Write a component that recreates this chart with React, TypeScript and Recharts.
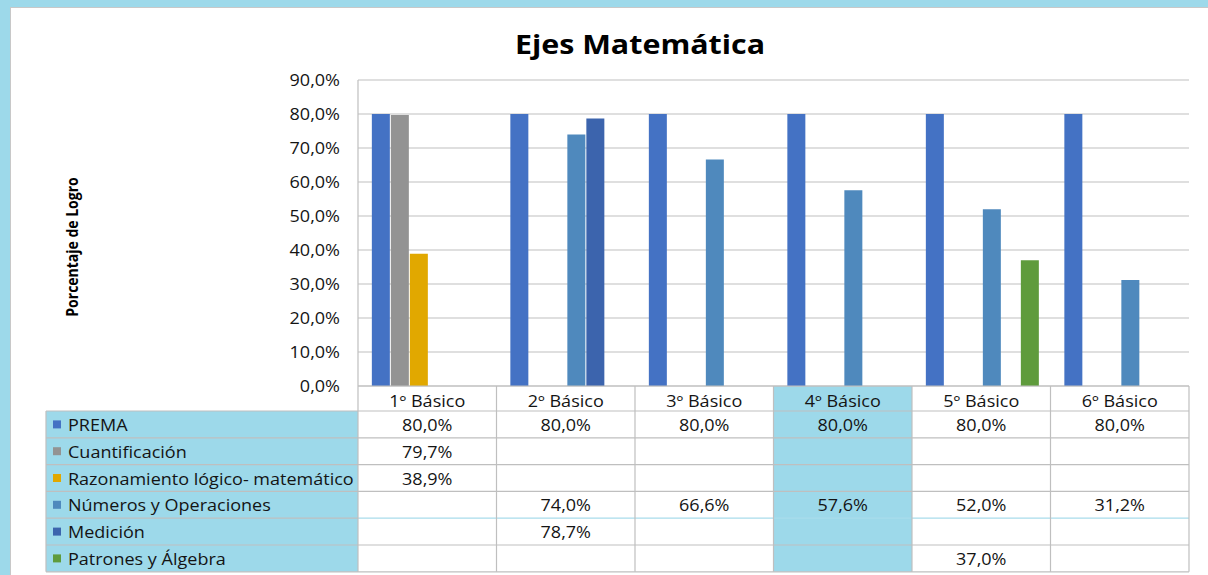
import React from 'react';
import { BarChart, Bar, XAxis, YAxis, CartesianGrid } from 'recharts';

const categories = ['1º Básico', '2º Básico', '3º Básico', '4º Básico', '5º Básico', '6º Básico'];
const prema = [80.0, 80.0, 80.0, 80.0, 80.0, 80.0];
const cuantificacion = [79.7, null, null, null, null, null];
const razonamiento = [38.9, null, null, null, null, null];
const numeros = [null, 74.0, 66.6, 57.6, 52.0, 31.2];
const medicion = [null, 78.7, null, null, null, null];
const patrones = [null, null, null, null, 37.0, null];
const yTicks = [0, 10, 20, 30, 40, 50, 60, 70, 80, 90];

const seriesDefs = [
  { key: 'prema', name: 'PREMA', values: prema, color: '#4472C4' },
  { key: 'cuant', name: 'Cuantificación', values: cuantificacion, color: '#939393' },
  { key: 'raz', name: 'Razonamiento lógico- matemático', values: razonamiento, color: '#E1A800' },
  { key: 'num', name: 'Números y Operaciones', values: numeros, color: '#4F89BD' },
  { key: 'med', name: 'Medición', values: medicion, color: '#3C64AD' },
  { key: 'pat', name: 'Patrones y Álgebra', values: patrones, color: '#5F9B3C' },
];

const data = categories.map((c, i) => {
  const row: Record<string, any> = { cat: c };
  seriesDefs.forEach((s) => {
    row[s.key] = s.values[i];
  });
  return row;
});

const W = 1208;
const H = 575;
const PLOT_LEFT = 358;
const PLOT_RIGHT = 1189;
const PLOT_TOP = 80;
const PLOT_BOTTOM = 386;
const XAXIS_H = 25;
const YAXIS_W = 60;
const TABLE_LEFT = 46;
const ROW_TOP = 411;
const ROW_H = 26.8;
const HIGHLIGHT_COL = 3;
const SX = 1.17;
const FS = 15.4;

const FONT = '"Open Sans", "DejaVu Sans", sans-serif';
const BLUE_BG = '#9DD9EA';
const GRID = '#BFBFBF';
const TXT = '#141414';

const fmt = (v: number) => `${v.toFixed(1).replace('.', ',')}%`;

function WideText({ x, y, anchor, size, weight, children }: any) {
  return (
    <text
      transform={`translate(${x}, ${y}) scale(${SX}, 1)`}
      x={0}
      y={0}
      textAnchor={anchor}
      fontFamily={FONT}
      fontSize={size}
      fontWeight={weight || 400}
      fill={TXT}
    >
      {children}
    </text>
  );
}

function XTick(props: any) {
  const { x, y, payload } = props;
  return (
    <WideText x={x} y={y + 13} anchor="middle" size={FS}>
      {payload.value}
    </WideText>
  );
}

function YTick(props: any) {
  const { x, y, payload } = props;
  return (
    <WideText x={x} y={y + 5.5} anchor="end" size={FS}>
      {fmt(payload.value)}
    </WideText>
  );
}

const colW = (PLOT_RIGHT - PLOT_LEFT) / categories.length;
const tableBottom = ROW_TOP + ROW_H * seriesDefs.length;

function Background() {
  const hx = PLOT_LEFT + colW * HIGHLIGHT_COL;
  return (
    <svg width={W} height={H} style={{ position: 'absolute', left: 0, top: 0 }}>
      <rect x={TABLE_LEFT} y={ROW_TOP} width={PLOT_LEFT - TABLE_LEFT} height={tableBottom - ROW_TOP} fill={BLUE_BG} />
      <rect x={hx} y={PLOT_BOTTOM} width={colW} height={tableBottom - PLOT_BOTTOM} fill={BLUE_BG} />
    </svg>
  );
}

function TableOverlay() {
  return (
    <svg width={W} height={H} style={{ position: 'absolute', left: 0, top: 0, pointerEvents: 'none' }}>
      <text
        transform={`translate(640, 54) scale(1.17, 1)`}
        textAnchor="middle"
        fontFamily={FONT}
        fontWeight={700}
        fontSize={26}
        fill="#000"
      >
        Ejes Matemática
      </text>
      <text
        transform={`translate(78, ${(PLOT_TOP + PLOT_BOTTOM) / 2 + 14}) rotate(-90) scale(1, ${SX})`}
        textAnchor="middle"
        fontFamily={FONT}
        fontWeight={700}
        fontSize={14}
        fill="#000"
      >
        Porcentaje de Logro
      </text>
      {seriesDefs.map((s, i) => {
        const y = ROW_TOP + ROW_H * i;
        const light = i === 4;
        return (
          <g key={'h' + i}>
            <line x1={TABLE_LEFT} x2={PLOT_LEFT} y1={y} y2={y} stroke={GRID} strokeWidth={1.2} />
            <line x1={PLOT_LEFT} x2={PLOT_RIGHT} y1={y} y2={y} stroke={light ? '#A9DCEB' : GRID} strokeWidth={1.2} />
          </g>
        );
      })}
      <line x1={TABLE_LEFT} x2={PLOT_RIGHT} y1={tableBottom} y2={tableBottom} stroke={GRID} strokeWidth={1.2} />
      <line x1={TABLE_LEFT} x2={TABLE_LEFT} y1={ROW_TOP} y2={tableBottom} stroke={GRID} strokeWidth={1.2} />
      {categories.map((c, i) => (
        <line
          key={'v' + i}
          x1={PLOT_LEFT + colW * i}
          x2={PLOT_LEFT + colW * i}
          y1={PLOT_BOTTOM}
          y2={tableBottom}
          stroke={GRID}
          strokeWidth={1.2}
        />
      ))}
      <line x1={PLOT_RIGHT} x2={PLOT_RIGHT} y1={PLOT_BOTTOM} y2={tableBottom} stroke={GRID} strokeWidth={1.2} />
      {seriesDefs.map((s, i) => {
        const yc = ROW_TOP + ROW_H * i + ROW_H / 2;
        return (
          <g key={'r' + i}>
            <rect x={53} y={yc - 4} width={8} height={8} fill={s.color} />
            <WideText x={68} y={yc + 6.5} anchor="start" size={FS}>
              {s.name}
            </WideText>
            {s.values.map((v, j) =>
              v == null ? null : (
                <WideText key={j} x={PLOT_LEFT + colW * j + colW / 2} y={yc + 6.5} anchor="middle" size={FS}>
                  {fmt(v)}
                </WideText>
              )
            )}
          </g>
        );
      })}
    </svg>
  );
}

export default function App() {
  return (
    <div style={{ position: 'absolute', left: 0, top: 0, width: W, height: H, background: '#fff', overflow: 'hidden' }}>
      <div style={{ position: 'absolute', left: 0, top: 0, width: W, height: 7, background: BLUE_BG }} />
      <div style={{ position: 'absolute', left: 0, top: 7, width: W, height: 1, background: '#C8C8C8' }} />
      <div style={{ position: 'absolute', left: 0, top: 0, width: 10, height: H, background: BLUE_BG }} />
      <div style={{ position: 'absolute', left: 10, top: 7, width: 1, height: H, background: '#C8C8C8' }} />
      <Background />
      <div style={{ position: 'absolute', left: 0, top: 0 }}>
        <BarChart
          width={W}
          height={H}
          data={data}
          margin={{ top: PLOT_TOP, right: W - PLOT_RIGHT, left: PLOT_LEFT - YAXIS_W, bottom: H - PLOT_BOTTOM - XAXIS_H }}
          barCategoryGap="10%"
          barGap={1}
        >
          <CartesianGrid vertical={false} stroke={GRID} strokeWidth={1.2} />
          <XAxis
            dataKey="cat"
            height={XAXIS_H}
            axisLine={{ stroke: GRID, strokeWidth: 1.2 }}
            tickLine={false}
            interval={0}
            tick={<XTick />}
            tickMargin={2}
          />
          <YAxis
            width={YAXIS_W}
            domain={[0, 90]}
            ticks={yTicks}
            tickFormatter={fmt}
            axisLine={{ stroke: GRID, strokeWidth: 1.2 }}
            tickLine={false}
            tickSize={0}
            tickMargin={18}
            tick={<YTick />}
            interval={0}
          />
          {seriesDefs.map((s) => (
            <Bar key={s.key} dataKey={s.key} name={s.name} fill={s.color} isAnimationActive={false} />
          ))}
        </BarChart>
      </div>
      <TableOverlay />
    </div>
  );
}
